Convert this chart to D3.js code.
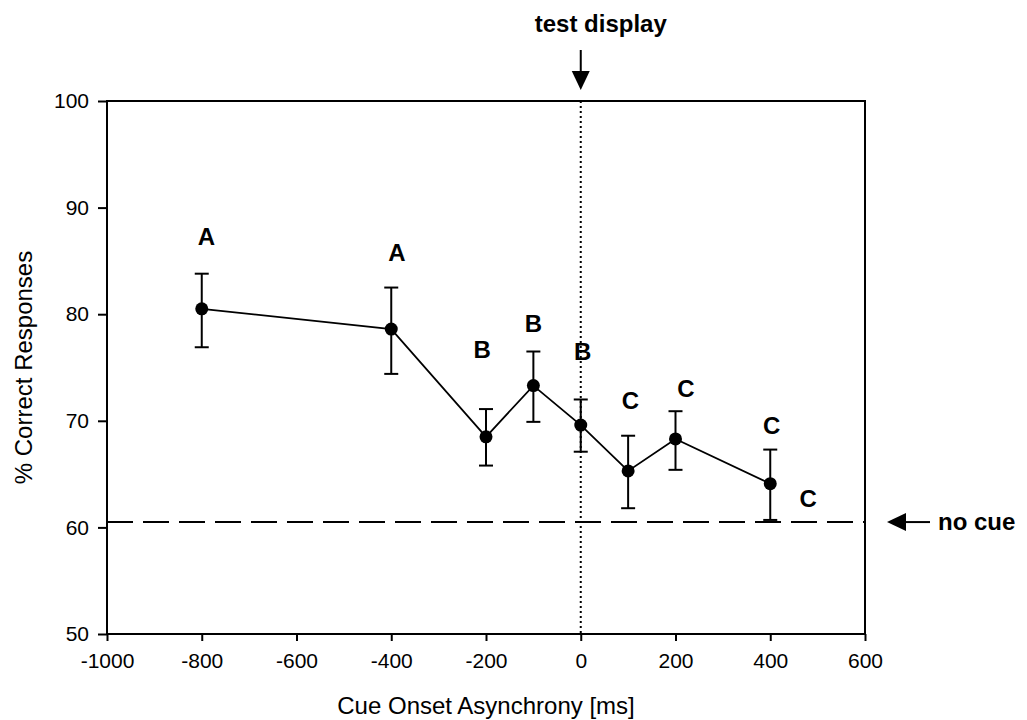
<!DOCTYPE html>
<html>
<head>
<meta charset="utf-8">
<script src="https://cdn.jsdelivr.net/npm/d3@7"></script>
<style>
  html, body { margin: 0; padding: 0; background: #fff; }
  svg { display: block; font-family: "Liberation Sans", Arial, sans-serif; }
</style>
</head>
<body>
<svg id="chart" width="1027" height="720"></svg>
<script>
// Cue onset asynchrony (ms) and mean % correct with error bar limits
const soa      = [-800, -400, -200, -100, 0, 100, 200, 400];
const meanPct  = [80.5, 78.6, 68.5, 73.3, 69.6, 65.3, 68.3, 64.1];
const errHigh  = [83.8, 82.5, 71.1, 76.5, 72.0, 68.6, 70.9, 67.3];
const errLow   = [76.9, 74.4, 65.8, 69.9, 67.1, 61.8, 65.4, 60.7];

// Group letters and where they sit (data units)
const groupLetters = ["A", "A", "B", "B", "B", "C", "C", "C", "C"];
const letterX      = [-790, -388, -208, -100, 4, 105, 222, 403, 480];
const letterY      = [87.3, 85.8, 76.7, 79.1, 76.5, 71.9, 73.0, 69.6, 62.7];

// Baseline performance without a cue
const noCuePct = 60.5;

const xTicks = [-1000, -800, -600, -400, -200, 0, 200, 400, 600];
const yTicks = [50, 60, 70, 80, 90, 100];

const margin = { left: 107, right: 162, top: 101, bottom: 86 };
const W = 1027, H = 720;
const svg = d3.select("#chart");

const x = d3.scaleLinear().domain([-1000, 600]).range([margin.left, W - margin.right]);
const y = d3.scaleLinear().domain([50, 100]).range([H - margin.bottom, margin.top]);

// axes (plain hyphen minus, no thousands separator)
const fmt = d => String(d);
const xAxis = d3.axisBottom(x).tickValues(xTicks).tickFormat(fmt).tickSize(7).tickPadding(12);
const yAxis = d3.axisLeft(y).tickValues(yTicks).tickFormat(fmt).tickSize(9).tickPadding(9);

const gx = svg.append("g").attr("transform", `translate(0,${y(50)})`).call(xAxis);
const gy = svg.append("g").attr("transform", `translate(${x(-1000)},0)`).call(yAxis);
[gx, gy].forEach(g => {
  g.attr("font-family", null).attr("font-size", null);
  g.select(".domain").remove();
  g.selectAll(".tick line").attr("stroke", "#000").attr("stroke-width", 2);
  g.selectAll(".tick text").attr("fill", "#000").style("font-size", "21px");
});

// frame
svg.append("rect")
  .attr("x", x(-1000)).attr("y", y(100))
  .attr("width", x(600) - x(-1000)).attr("height", y(50) - y(100))
  .attr("fill", "none").attr("stroke", "#000").attr("stroke-width", 2);

// no-cue reference line
svg.append("line")
  .attr("x1", x(-1000)).attr("x2", x(600))
  .attr("y1", y(noCuePct)).attr("y2", y(noCuePct))
  .attr("stroke", "#000").attr("stroke-width", 2).attr("stroke-dasharray", "26,10");

// test display onset (dotted)
svg.append("line")
  .attr("x1", x(0)).attr("x2", x(0))
  .attr("y1", y(100)).attr("y2", y(50))
  .attr("stroke", "#000").attr("stroke-width", 2).attr("stroke-dasharray", "2,3");

const pts = soa.map((s, i) => ({ s, m: meanPct[i], hi: errHigh[i], lo: errLow[i] }));

// error bars
const eb = svg.append("g").attr("stroke", "#000").attr("stroke-width", 2);
pts.forEach(d => {
  eb.append("line").attr("x1", x(d.s)).attr("x2", x(d.s)).attr("y1", y(d.hi)).attr("y2", y(d.lo));
  eb.append("line").attr("x1", x(d.s) - 7).attr("x2", x(d.s) + 7).attr("y1", y(d.hi)).attr("y2", y(d.hi));
  eb.append("line").attr("x1", x(d.s) - 7).attr("x2", x(d.s) + 7).attr("y1", y(d.lo)).attr("y2", y(d.lo));
});

// mean line
svg.append("path")
  .datum(pts)
  .attr("fill", "none").attr("stroke", "#000").attr("stroke-width", 1.8)
  .attr("d", d3.line().x(d => x(d.s)).y(d => y(d.m)));

svg.append("g").selectAll("circle").data(pts).join("circle")
  .attr("cx", d => x(d.s)).attr("cy", d => y(d.m)).attr("r", 6.5).attr("fill", "#000");

// group letters
svg.append("g").selectAll("text").data(groupLetters).join("text")
  .attr("x", (d, i) => x(letterX[i])).attr("y", (d, i) => y(letterY[i]))
  .attr("text-anchor", "middle").attr("dominant-baseline", "central")
  .style("font-size", "24px").style("font-weight", "bold")
  .text(d => d);

// axis titles
svg.append("text")
  .attr("x", (x(-1000) + x(600)) / 2).attr("y", 714)
  .attr("text-anchor", "middle").style("font-size", "24px")
  .text("Cue Onset Asynchrony [ms]");

svg.append("text")
  .attr("transform", `translate(32,${(y(50) + y(100)) / 2}) rotate(-90)`)
  .attr("text-anchor", "middle").style("font-size", "24px")
  .text("% Correct Responses");

// annotations with arrows
const arrowHead = (tipX, tipY, dir) => {
  const L = 19, hw = 9;
  const p = dir === "down"
    ? [[tipX, tipY], [tipX - hw, tipY - L], [tipX + hw, tipY - L]]
    : [[tipX, tipY], [tipX + L, tipY - hw], [tipX + L, tipY + hw]];
  svg.append("path").attr("d", d3.line()(p) + "Z").attr("fill", "#000");
};

svg.append("text")
  .attr("x", x(0) - 46).attr("y", 32)
  .style("font-size", "24px").style("font-weight", "bold")
  .text("test display");
svg.append("line").attr("x1", x(0)).attr("x2", x(0)).attr("y1", 50).attr("y2", 75)
  .attr("stroke", "#000").attr("stroke-width", 2);
arrowHead(x(0), 90, "down");

const ny = y(noCuePct);
svg.append("line").attr("x1", 900).attr("x2", 930).attr("y1", ny).attr("y2", ny)
  .attr("stroke", "#000").attr("stroke-width", 2);
arrowHead(887, ny, "left");
svg.append("text")
  .attr("x", 938).attr("y", ny + 8)
  .style("font-size", "24px").style("font-weight", "bold")
  .text("no cue");
</script>
</body>
</html>
